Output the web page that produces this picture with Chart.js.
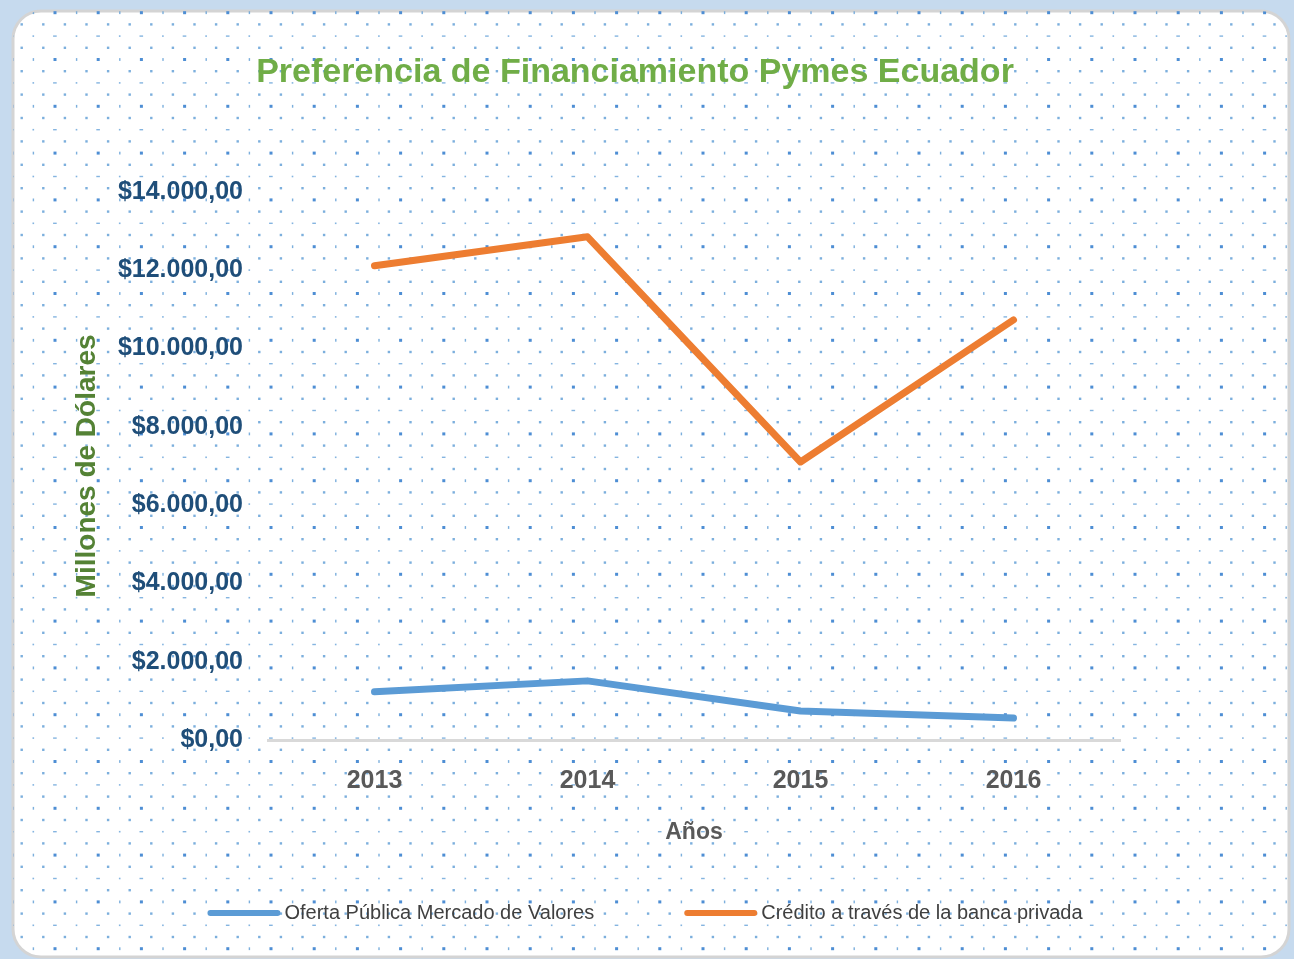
<!DOCTYPE html>
<html>
<head>
<meta charset="utf-8">
<title>Preferencia de Financiamiento Pymes Ecuador</title>
<script src="https://cdn.jsdelivr.net/npm/chart.js@4.4.1/dist/chart.umd.min.js"></script>
<style>
  html, body { margin: 0; padding: 0; background: #c6daee; }
  #wrap { width: 1294px; height: 959px; }
</style>
</head>
<body>
<div id="wrap"><canvas id="chart" width="1294" height="959"></canvas></div>
<script>
// datos
const years = ["2013", "2014", "2015", "2016"];
const ofertaPublica = [1230, 1510, 740, 560];
const creditoBanca = [12110, 12850, 7100, 10730];
const seriesNames = ["Oferta Pública Mercado de Valores", "Crédito a través de la banca privada"];
const yTicksMax = 14000;
const yTicksStep = 2000;

const BLUE = "#5b9bd5";
const ORANGE = "#ed7d31";
const FONT = "'Liberation Sans', Arial, sans-serif";

// $14.000,00
function formatDollars(v) {
  const intPart = Math.round(v).toString().replace(/\B(?=(\d{3})+(?!\d))/g, ".");
  return "$" + intPart + ",00";
}

// fondo: tarjeta blanca con puntos azules
const cardBackground = {
  id: "cardBackground",
  beforeDraw(chart) {
    const ctx = chart.ctx;
    const w = chart.width, h = chart.height;
    ctx.save();
    ctx.fillStyle = "#c6daee";
    ctx.fillRect(0, 0, w, h);

    const x0 = 13, y0 = 11, x1 = 1289, y1 = 957, r = 28;
    ctx.beginPath();
    ctx.roundRect(x0, y0, x1 - x0, y1 - y0, r);
    ctx.fillStyle = "#ffffff";
    ctx.fill();
    ctx.lineWidth = 3;
    ctx.strokeStyle = "#d4d4d4";
    ctx.stroke();
    ctx.clip();

    const dx = 21.6, dy = 11.7;
    for (let i = 0; ; i++) {
      const y = 12.7 + i * dy;
      if (y > h) break;
      if (i % 2 === 1) {
        ctx.fillStyle = "rgba(91,155,213,0.8)";
        for (let x = 43.3 - dx * 2; x < w; x += dx) ctx.fillRect(x - 1.2, y - 1.2, 2.4, 2.4);
      } else if (i % 4 === 0) {
        let k = 0;
        for (let x = 55 - dx * 2; x < w; x += dx, k++) {
          if (k % 2 === 0) {
            ctx.fillStyle = "rgba(68,136,210,0.95)";
            ctx.fillRect(x - 1.5, y - 1.5, 3, 3);
          } else {
            ctx.fillStyle = "rgba(91,155,213,0.8)";
            ctx.fillRect(x - 0.7, y - 1.4, 1.4, 2.8);
          }
        }
      } else {
        let k = 0;
        for (let x = 33.3 - dx * 2; x < w; x += dx, k++) {
          ctx.fillStyle = "rgba(91,155,213,0.75)";
          if (k % 2 === 0) ctx.fillRect(x - 0.8, y - 0.8, 1.6, 1.6);
          else ctx.fillRect(x - 1.8, y - 0.7, 3.6, 1.4);
        }
      }
    }
    ctx.restore();
  }
};

// leyenda abajo, al estilo de Excel
const bottomLegend = {
  id: "bottomLegend",
  afterDraw(chart) {
    const ctx = chart.ctx;
    const sample = 73, gapText = 4, gapItem = 90;
    const y = 913;
    ctx.save();
    ctx.font = "20px " + FONT;
    const items = chart.data.datasets.map(ds => ({
      text: ds.label,
      color: ds.borderColor,
      w: ctx.measureText(ds.label).width
    }));
    let total = 0;
    items.forEach((it, i) => { total += sample + gapText + it.w + (i > 0 ? gapItem : 0); });
    let x = chart.width / 2 - 2 - total / 2;
    items.forEach(it => {
      ctx.beginPath();
      ctx.lineCap = "round";
      ctx.lineWidth = 6;
      ctx.strokeStyle = it.color;
      ctx.moveTo(x + 3, y);
      ctx.lineTo(x + sample - 3, y);
      ctx.stroke();
      ctx.fillStyle = "#404040";
      ctx.textBaseline = "middle";
      ctx.textAlign = "left";
      ctx.fillText(it.text, x + sample + gapText, y);
      x += sample + gapText + it.w + gapItem;
    });
    ctx.restore();
  }
};

const ctx = document.getElementById("chart").getContext("2d");
new Chart(ctx, {
  type: "line",
  data: {
    labels: years,
    datasets: [
      {
        label: seriesNames[0],
        data: ofertaPublica,
        borderColor: BLUE,
        backgroundColor: BLUE,
        borderWidth: 7,
        pointRadius: 0,
        tension: 0,
        borderJoinStyle: "round",
        borderCapStyle: "round",
      },
      {
        label: seriesNames[1],
        data: creditoBanca,
        borderColor: ORANGE,
        backgroundColor: ORANGE,
        borderWidth: 7,
        pointRadius: 0,
        tension: 0,
        borderJoinStyle: "round",
        borderCapStyle: "round",
      },
    ],
  },
  options: {
    responsive: false,
    animation: false,
    layout: {
      padding: { top: 10, left: 0, right: 24, bottom: 109 },
    },
    scales: {
      x: {
        type: "category",
        offset: true,
        grid: { display: false, drawTicks: false },
        border: { display: true, color: "#d9d9d9", width: 3 },
        ticks: {
          color: "#595959",
          font: { family: FONT, size: 25, weight: "bold" },
          padding: 26,
        },
        title: {
          display: true,
          text: "Años",
          color: "#595959",
          font: { family: FONT, size: 23, weight: "bold" },
          padding: { top: 0, bottom: 4 },
        },
        afterFit(scale) {
          scale.height = 110;
        },
      },
      y: {
        min: 0,
        max: yTicksMax,
        grid: { display: false, drawTicks: false },
        border: { display: false },
        ticks: {
          stepSize: yTicksStep,
          color: "#1f4e79",
          font: { family: FONT, size: 25, weight: "bold" },
          padding: 25,
          callback: (value) => formatDollars(value),
        },
        title: {
          display: true,
          text: "Millones de Dólares",
          color: "#548235",
          font: { family: FONT, size: 28, weight: "bold" },
          padding: { top: 70, bottom: 0 },
        },
        afterFit(scale) {
          scale.width = 268;
        },
      },
      // espacio vacío a la derecha del área de trazado
      yRight: {
        position: "right",
        display: true,
        min: 0,
        max: yTicksMax,
        grid: { display: false, drawTicks: false },
        border: { display: false },
        ticks: { display: false },
        afterFit(scale) {
          scale.width = 150;
        },
      },
    },
    plugins: {
      legend: { display: false },
      tooltip: { enabled: false },
      title: {
        display: true,
        text: "Preferencia de Financiamiento Pymes Ecuador",
        color: "#70ad47",
        font: { family: FONT, size: 34, weight: "bold" },
        padding: { top: 42, bottom: 99 },
      },
    },
  },
  plugins: [cardBackground, bottomLegend],
});
</script>
</body>
</html>
